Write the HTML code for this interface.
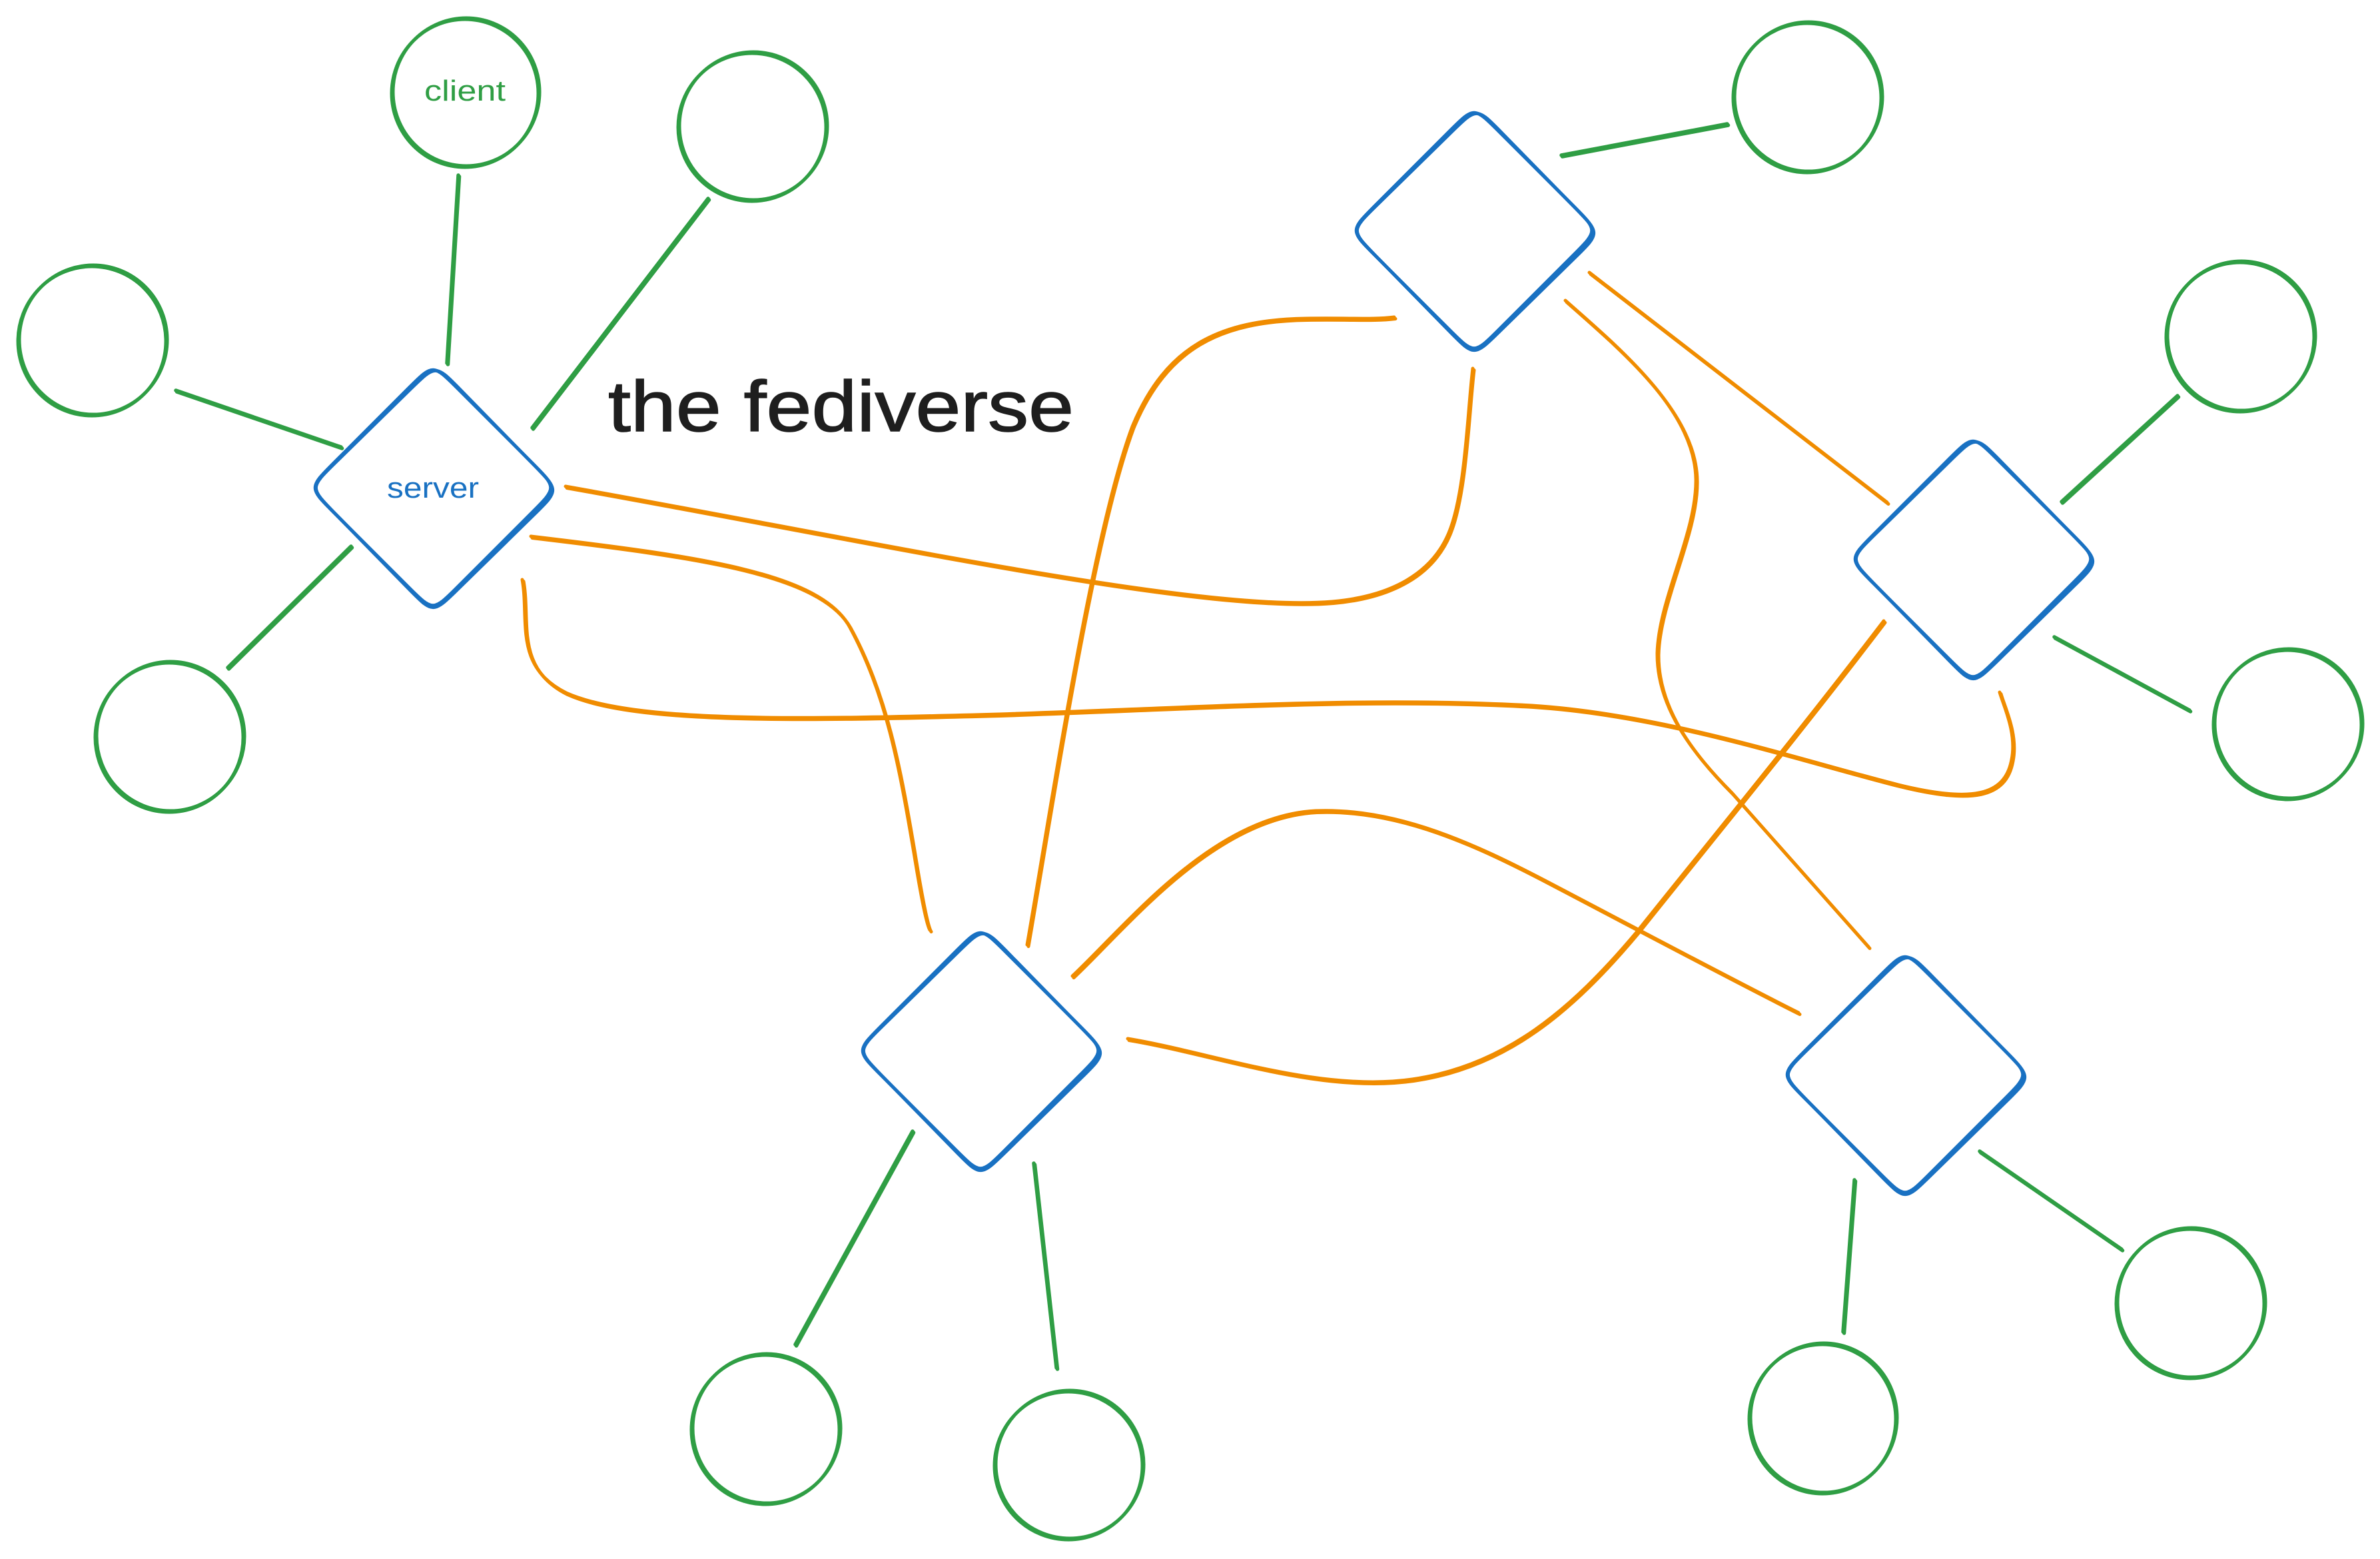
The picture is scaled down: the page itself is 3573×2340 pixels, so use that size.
<!DOCTYPE html>
<html>
<head>
<meta charset="utf-8">
<style>
  html, body { margin:0; padding:0; background:#ffffff; }
  body { width:3573px; height:2340px; overflow:hidden; }
  svg { display:block; }
</style>
</head>
<body>
<svg width="3573" height="2340" viewBox="0 0 3573 2340" xmlns="http://www.w3.org/2000/svg">
  <rect x="0" y="0" width="3573" height="2340" fill="#ffffff"/>
  <defs>
    <path id="dia" d="M-37,-149 C0,-186 0,-186 37,-149 L149,-37 C186,0 186,0 149,37 L37,149 C0,186 0,186 -37,149 L-149,37 C-186,0 -186,0 -149,-37 Z"/>
  </defs>

  <!-- orange connectors -->
  <g id="org" fill="none" stroke="#f08c00" stroke-width="5" stroke-linecap="round" stroke-linejoin="round">
    <path d="M849,730 C1300,810 1800,920 2000,903 C2090,895 2150,860 2175,800 C2200,740 2203,620 2211,553"/>
    <path d="M797,805 C1050,835 1230,860 1275,940 C1330,1040 1350,1150 1372,1280 C1385,1360 1392,1390 1396,1396"/>
    <path d="M784,870 C795,930 770,1000 850,1040 C950,1085 1200,1080 1500,1072 C1800,1062 2050,1045 2300,1059 C2500,1072 2700,1140 2850,1178 C2960,1205 3010,1195 3020,1140 C3028,1100 3008,1060 3002,1039"/>
    <path d="M1542,1418 C1580,1200 1640,800 1700,640 C1750,520 1830,480 1960,478 C2030,477 2060,480 2093,476"/>
    <path d="M2386,409 L2833,754"/>
    <path d="M2350,451 C2440,530 2545,620 2546,720 C2547,800 2490,900 2488,980 C2487,1060 2540,1130 2600,1190 C2680,1280 2750,1360 2805,1421"/>
    <path d="M2828,932 C2700,1100 2560,1270 2458,1398 C2360,1515 2260,1600 2120,1620 C1980,1640 1820,1580 1693,1559"/>
    <path d="M1610,1465 C1690,1390 1820,1225 1975,1217 C2100,1212 2220,1270 2320,1322 C2450,1390 2600,1470 2700,1520"/>
  </g>
  <use href="#org" transform="translate(2,2.5)"/>

  <!-- green connectors -->
  <g id="grn" fill="none" stroke="#2f9e44" stroke-width="5.5" stroke-linecap="round">
    <line x1="688" y1="263" x2="671" y2="545"/>
    <line x1="1063" y1="298" x2="799" y2="642"/>
    <line x1="264" y1="586" x2="512" y2="671"/>
    <line x1="527" y1="820" x2="342" y2="1002"/>
    <line x1="2344" y1="233" x2="2593" y2="186"/>
    <line x1="3095" y1="753" x2="3269" y2="594"/>
    <line x1="3084" y1="956" x2="3287" y2="1066"/>
    <line x1="1370" y1="1698" x2="1194" y2="2018"/>
    <line x1="1552" y1="1746" x2="1586" y2="2053"/>
    <line x1="2784" y1="1771" x2="2767" y2="1999"/>
    <line x1="2972" y1="1728" x2="3185" y2="1875"/>
  </g>
  <use href="#grn" transform="translate(1.5,2)"/>

  <!-- green circles -->
  <g id="circ" fill="none" stroke="#2f9e44" stroke-width="5">
    <ellipse cx="698" cy="140" rx="110" ry="111"/>
    <ellipse cx="1129" cy="191" rx="111" ry="111"/>
    <ellipse cx="138" cy="512" rx="111" ry="112"/>
    <ellipse cx="254" cy="1107" rx="111" ry="112"/>
    <ellipse cx="2713" cy="147" rx="111" ry="112"/>
    <ellipse cx="3363" cy="506" rx="111" ry="112"/>
    <ellipse cx="3434" cy="1088" rx="111" ry="112"/>
    <ellipse cx="1149" cy="2146" rx="111" ry="112"/>
    <ellipse cx="1604" cy="2200" rx="111" ry="111"/>
    <ellipse cx="2736" cy="2130" rx="110" ry="112"/>
    <ellipse cx="3288" cy="1957" rx="111" ry="112"/>
  </g>
  <use href="#circ" transform="translate(2,-2)"/>

  <!-- blue diamonds -->
  <g fill="none" stroke="#1971c2" stroke-width="5" stroke-linejoin="round">
    <use href="#dia" transform="translate(650,732)"/>
    <use href="#dia" transform="translate(652,734) rotate(0.6) scale(1.005)"/>
    <use href="#dia" transform="translate(2213,346)"/>
    <use href="#dia" transform="translate(2215,348) rotate(0.6) scale(1.005)"/>
    <use href="#dia" transform="translate(2962,839)"/>
    <use href="#dia" transform="translate(2964,841) rotate(0.6) scale(1.005)"/>
    <use href="#dia" transform="translate(1472,1577)"/>
    <use href="#dia" transform="translate(1474,1579) rotate(0.6) scale(1.005)"/>
    <use href="#dia" transform="translate(2860,1613)"/>
    <use href="#dia" transform="translate(2862,1615) rotate(0.6) scale(1.005)"/>
  </g>

  <!-- labels -->
  <text x="637" y="151" font-family="'Liberation Sans', sans-serif" font-size="44" fill="#2f9e44" textLength="122" lengthAdjust="spacingAndGlyphs">client</text>
  <text x="581" y="747" font-family="'Liberation Sans', sans-serif" font-size="44" fill="#1971c2" textLength="138" lengthAdjust="spacingAndGlyphs">server</text>
  <text x="913" y="647" font-family="'Liberation Sans', sans-serif" font-size="108" fill="#1e1e1e" stroke="#1e1e1e" stroke-width="1.5" textLength="699" lengthAdjust="spacingAndGlyphs">the fediverse</text>
</svg>
</body>
</html>
